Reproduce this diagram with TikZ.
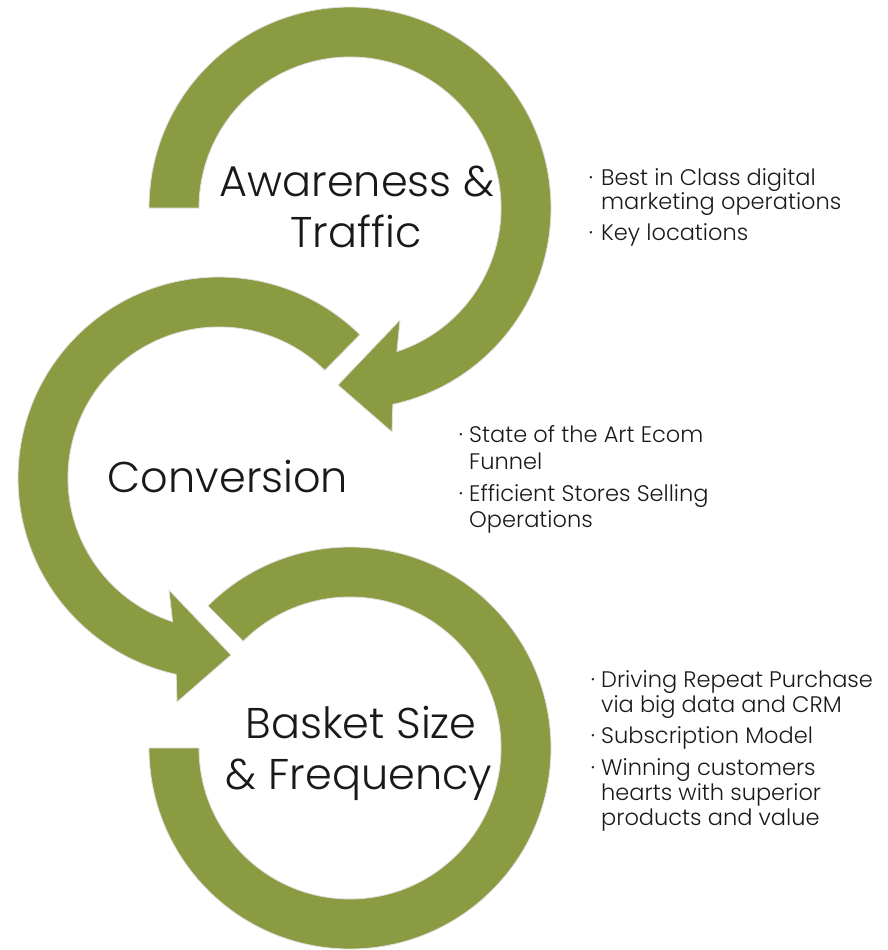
\documentclass[tikz,border=0pt]{standalone}
\usepackage{fontspec}
\setmainfont{Poppins}[UprightFont=* Light]
\definecolor{olive}{RGB}{138,155,66}
\definecolor{txt}{RGB}{25,25,25}
\begin{document}
\begin{tikzpicture}[x=1pt,y=1pt,
  ring/.style={fill=olive, draw=black!12, line width=0.8pt, line join=miter},
  title/.style={anchor=base, inner sep=0pt, text=txt, font=\fontsize{43}{51}\selectfont},
  item/.style={anchor=base west, inner sep=0pt, text=txt, font=\fontsize{22.5}{25}\selectfont},
  dot/.style={anchor=base, inner sep=0pt, text=txt, font=\fontsize{22.5}{25}\selectfont}]
\useasboundingbox (0,0) rectangle (887,-950);
\coordinate (c1) at (350,-208);
\coordinate (c2) at (219,-478);
\coordinate (c3) at (350,-748);
% top ring with arrow
\path[ring] ([shift={(180:201pt)}]c1) arc[start angle=180, end angle=-77.7, radius=201pt]
  -- (392,-432) -- (338,-385) -- (400,-320)
  -- ([shift={(-71.9:151pt)}]c1) arc[start angle=-71.9, end angle=180, radius=151pt] -- cycle;
% middle ring with arrow
\path[ring] ([shift={(45.5:201pt)}]c2) arc[start angle=45.5, end angle=257.7, radius=201pt]
  -- (177,-702) -- (231,-655) -- (169,-590)
  -- ([shift={(252.1:151pt)}]c2) arc[start angle=252.1, end angle=45.5, radius=151pt] -- cycle;
% bottom ring
\path[ring] ([shift={(135:201pt)}]c3) arc[start angle=135, end angle=-180, radius=201pt]
  -- ([shift={(180:151pt)}]c3) arc[start angle=-180, end angle=135, radius=151pt] -- cycle;
% titles
\node[title] (aw1) at (357,-196) {Awareness \&};
\node[title] (aw2) at (356,-247) {Traffic};
\node[title] (conv) at (228,-492) {Conversion};
\node[title] (bk1) at (361,-738) {Basket Size};
\node[title] (bk2) at (359,-789) {\& Frequency};
% top bullets
\node[dot] (d1a) at (591,-185) {·};
\node[item] (t1a) at (601,-185) {Best in Class digital};
\node[item] (t1b) at (601,-209) {marketing operations};
\node[dot] (d1b) at (591,-240) {·};
\node[item] (t1c) at (601,-240) {Key locations};
% middle bullets
\node[dot] (d2a) at (461,-442) {·};
\node[item] (t2a) at (469,-442) {State of the Art Ecom};
\node[item] (t2b) at (469,-469) {Funnel};
\node[dot] (d2b) at (461,-501) {·};
\node[item] (t2c) at (469,-501) {Efficient Stores Selling};
\node[item] (t2d) at (469,-527) {Operations};
% bottom bullets
\node[dot] (d3a) at (593,-687) {·};
\node[item] (t3a) at (601,-687) {Driving Repeat Purchase};
\node[item] (t3b) at (601,-712) {via big data and CRM};
\node[dot] (d3b) at (593,-743) {·};
\node[item] (t3c) at (601,-743) {Subscription Model};
\node[dot] (d3c) at (593,-775) {·};
\node[item] (t3d) at (601,-775) {Winning customers};
\node[item] (t3e) at (601,-800) {hearts with superior};
\node[item] (t3f) at (601,-825) {products and value};
\end{tikzpicture}
\end{document}
